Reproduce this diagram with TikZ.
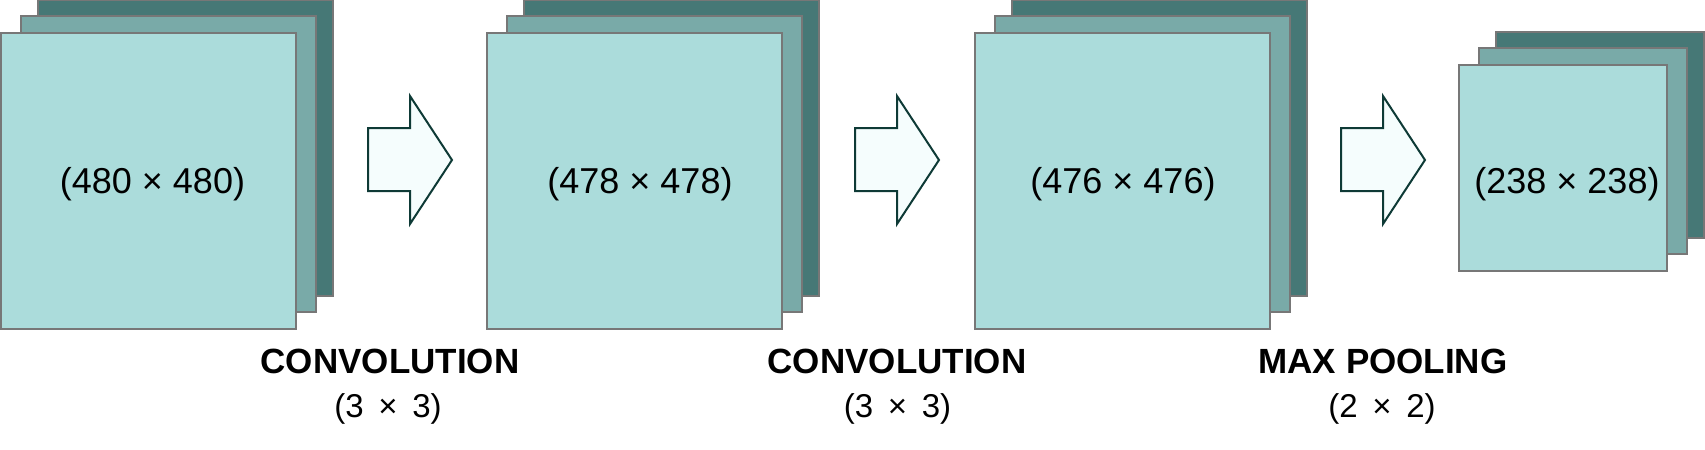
\documentclass[tikz,border=0pt]{standalone}
\usepackage{fontspec}
\setmainfont{Liberation Sans}
\definecolor{frontc}{HTML}{ABDCDB}
\definecolor{midc}{HTML}{79AAA8}
\definecolor{backc}{HTML}{467876}
\definecolor{edgec}{HTML}{777777}
\definecolor{arrfill}{HTML}{F5FDFD}
\definecolor{arredge}{HTML}{0E3A36}
\begin{document}
\begin{tikzpicture}[x=0.5pt,y=-0.5pt,
  sq/.style={draw=edgec, line width=1pt, rectangle, inner sep=0pt, outer sep=0pt, anchor=north west},
  frontsq/.style={sq, fill=frontc},
  midsq/.style={sq, fill=midc},
  backsq/.style={sq, fill=backc},
  bigsq/.style={minimum width=147.5pt, minimum height=148pt},
  smallsq/.style={minimum width=104pt, minimum height=103pt},
  arrowsty/.style={draw=arredge, fill=arrfill, line width=1pt, line join=miter},
  dimlabel/.style={font=\fontsize{18pt}{20pt}\selectfont, anchor=base, inner sep=0pt},
  titlelabel/.style={font=\fontsize{17.5pt}{20pt}\selectfont\bfseries, anchor=base, inner sep=0pt},
  sublabel/.style={font=\fontsize{16.5pt}{20pt}\selectfont, anchor=base, inner sep=0pt}]
\useasboundingbox (0,0) rectangle (1705,450);
% feature map stacks
\foreach \n/\sx/\sy/\st in {1/1/33/bigsq, 2/487/33/bigsq, 3/975/33/bigsq, 4/1459/65/smallsq} {
  \node[backsq, \st] (back\n) at (\sx+37,\sy-33) {};
  \node[midsq, \st] (mid\n) at (\sx+20,\sy-17) {};
  \node[frontsq, \st] (front\n) at (\sx,\sy) {};
}
% labels inside maps
\node[dimlabel] (d1) at (152.5,193.5) {(480 × 480)};
\node[dimlabel] (d2) at (640,193.5) {(478 × 478)};
\node[dimlabel] (d3) at (1123,193.5) {(476 × 476)};
\node[dimlabel] (d4) at (1567,193.5) {(238 × 238)};
% block arrows
\foreach \ax in {368,855,1341} {
  \draw[arrowsty] (\ax,128) -- (\ax+42,128) -- (\ax+42,96) -- (\ax+84,160)
    -- (\ax+42,224) -- (\ax+42,191) -- (\ax,191) -- cycle;
}
% operation labels
\node[titlelabel] (t1) at (390,373.3) {CONVOLUTION};
\node[sublabel] (s1) at (388,417.5) {(3 \,×\, 3)};
\node[titlelabel] (t2) at (897,373.3) {CONVOLUTION};
\node[sublabel] (s2) at (897.5,417.5) {(3 \,×\, 3)};
\node[titlelabel] (t3) at (1383,373.3) {MAX POOLING};
\node[sublabel] (s3) at (1382,417.5) {(2 \,×\, 2)};
\end{tikzpicture}
\end{document}
